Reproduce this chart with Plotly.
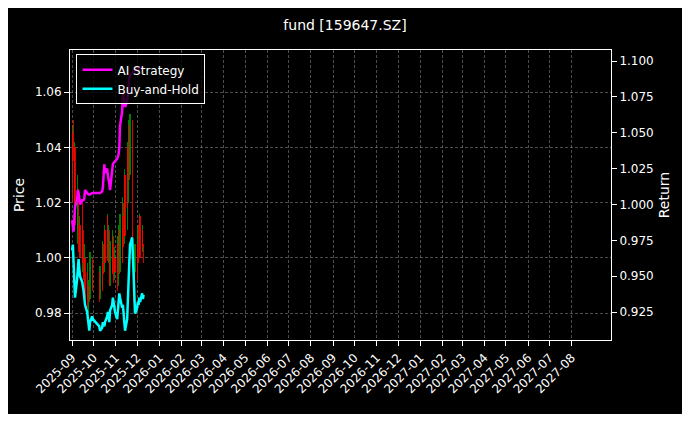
import pandas as pd
import plotly.graph_objects as go

dates = [d for d in pd.bdate_range("2025-09-01", "2025-12-10") if not (pd.Timestamp("2025-10-01") <= d <= pd.Timestamp("2025-10-08"))]

price_open = [1.030,1.045,1.050,1.020,1.040,1.010,1.005,1.025,1.000,1.012,1.020,0.995,1.010,0.990,1.000,0.985,0.995,0.980,0.990,0.985,1.000,0.990,
              0.995,0.985,0.998,0.990,1.005,0.995,1.010,1.000,1.015,0.998,1.010,0.990,1.005,0.995,1.008,0.992,1.000,
              0.995,1.005,0.990,1.010,0.995,1.015,1.000,1.020,1.005,1.030,1.010,1.040,1.020,1.048,1.030,1.050,1.010,1.000,0.985,0.995,
              1.005,0.995,1.012,1.000,1.015,1.002,1.010,1.005]
price_close = [1.048,1.020,1.035,1.042,1.012,1.030,1.022,1.002,1.015,1.000,0.998,1.012,0.992,1.005,0.985,0.998,0.982,0.992,0.984,1.002,0.988,0.998,
               0.984,0.997,0.988,1.006,0.994,1.012,0.998,1.016,0.999,1.012,0.990,1.006,0.994,1.010,0.991,1.004,0.995,
               1.008,0.988,1.012,0.994,1.016,0.998,1.022,1.004,1.032,1.008,1.042,1.018,1.050,1.028,1.052,1.008,0.998,0.984,0.996,1.005,
               0.992,1.012,0.998,1.016,1.000,1.012,1.004,0.998]
ai_strategy = [0.989,0.985,0.981,0.990,0.998,1.004,1.010,1.008,1.002,1.000,1.003,1.003,1.003,1.004,1.010,1.008,1.007,1.007,1.007,1.007,1.008,1.008,
               1.008,1.008,1.009,1.012,1.020,1.028,1.022,1.025,1.020,1.018,1.015,1.010,1.025,1.028,1.029,1.030,1.030,
               1.032,1.034,1.035,1.040,1.055,1.065,1.078,1.075,1.070,1.068,1.072,1.080,1.085,1.088,1.090,1.092,1.092,1.093,1.094,1.094,
               1.094,1.094,1.095,1.095,1.095,1.095,1.095,1.095]
buy_hold = [0.968,0.972,0.960,0.950,0.935,0.948,0.958,0.962,0.955,0.950,0.946,0.944,0.940,0.935,0.930,0.925,0.920,0.915,0.912,0.918,0.922,0.920,
            0.915,0.912,0.914,0.918,0.916,0.915,0.918,0.922,0.925,0.920,0.918,0.926,0.930,0.935,0.932,0.928,0.925,
            0.920,0.925,0.932,0.938,0.935,0.928,0.930,0.925,0.918,0.912,0.920,0.930,0.945,0.960,0.972,0.977,0.965,0.945,0.930,0.924,
            0.928,0.932,0.930,0.935,0.932,0.938,0.934,0.937]
month_ticks = pd.date_range("2025-09-01", "2027-08-01", freq="MS")

fig = go.Figure()
up_x, up_b, up_h, dn_x, dn_b, dn_h = [], [], [], [], [], []
for d, o, c in zip(dates, price_open, price_close):
    if c >= o:
        up_x.append(d); up_b.append(o); up_h.append(c - o)
    else:
        dn_x.append(d); dn_b.append(c); dn_h.append(o - c)
fig.add_trace(go.Bar(x=up_x, y=up_h, base=up_b, marker=dict(color="rgba(0,150,0,0.85)", line_width=0),
                     width=86400000*1.6, showlegend=False, yaxis="y"))
fig.add_trace(go.Bar(x=dn_x, y=dn_h, base=dn_b, marker=dict(color="rgba(255,0,0,0.85)", line_width=0),
                     width=86400000*1.6, showlegend=False, yaxis="y"))
fig.add_trace(go.Scatter(x=dates, y=ai_strategy, mode="lines", name="AI Strategy",
                         line=dict(color="#ff00ff", width=2.5), yaxis="y2"))
fig.add_trace(go.Scatter(x=dates, y=buy_hold, mode="lines", name="Buy-and-Hold",
                         line=dict(color="#00ffff", width=2.5), yaxis="y2"))

grid = dict(showgrid=True, gridcolor="rgba(140,140,140,0.55)", griddash="3px,2px", gridwidth=0.6)
fig.update_layout(
    width=674, height=406, paper_bgcolor="black", plot_bgcolor="black",
    font=dict(family="DejaVu Sans", color="white", size=12),
    margin=dict(l=62, r=71, t=42, b=74),
    title=dict(text="fund [159647.SZ]", x=0.5, xanchor="center", y=0.97, yanchor="top", font=dict(size=14)),
    bargap=0, barmode="overlay",
    xaxis=dict(range=["2025-08-29", "2027-09-25"], tickvals=list(month_ticks),
               ticktext=[t.strftime("%Y-%m") for t in month_ticks], tickangle=-45,
               showline=True, linecolor="white", mirror=True, ticks="outside", tickcolor="white", **grid),
    yaxis=dict(title=dict(text="Price", standoff=6), range=[0.9703, 1.0752], tickvals=[0.98, 1.00, 1.02, 1.04, 1.06],
               tickformat=".2f", showline=True, linecolor="white", ticks="outside", tickcolor="white", zeroline=False, **grid),
    yaxis2=dict(title=dict(text="Return", standoff=6), overlaying="y", side="right", range=[0.9055, 1.1077],
                tickvals=[0.925, 0.95, 0.975, 1.0, 1.025, 1.05, 1.075, 1.1], tickformat=".3f",
                showline=True, linecolor="white", ticks="outside", tickcolor="white", showgrid=False, zeroline=False),
    legend=dict(x=0.012, y=0.985, xanchor="left", yanchor="top", bgcolor="rgba(0,0,0,0.8)",
                bordercolor="white", borderwidth=1, font=dict(size=12)),
)
fig.write_html("out.html")
